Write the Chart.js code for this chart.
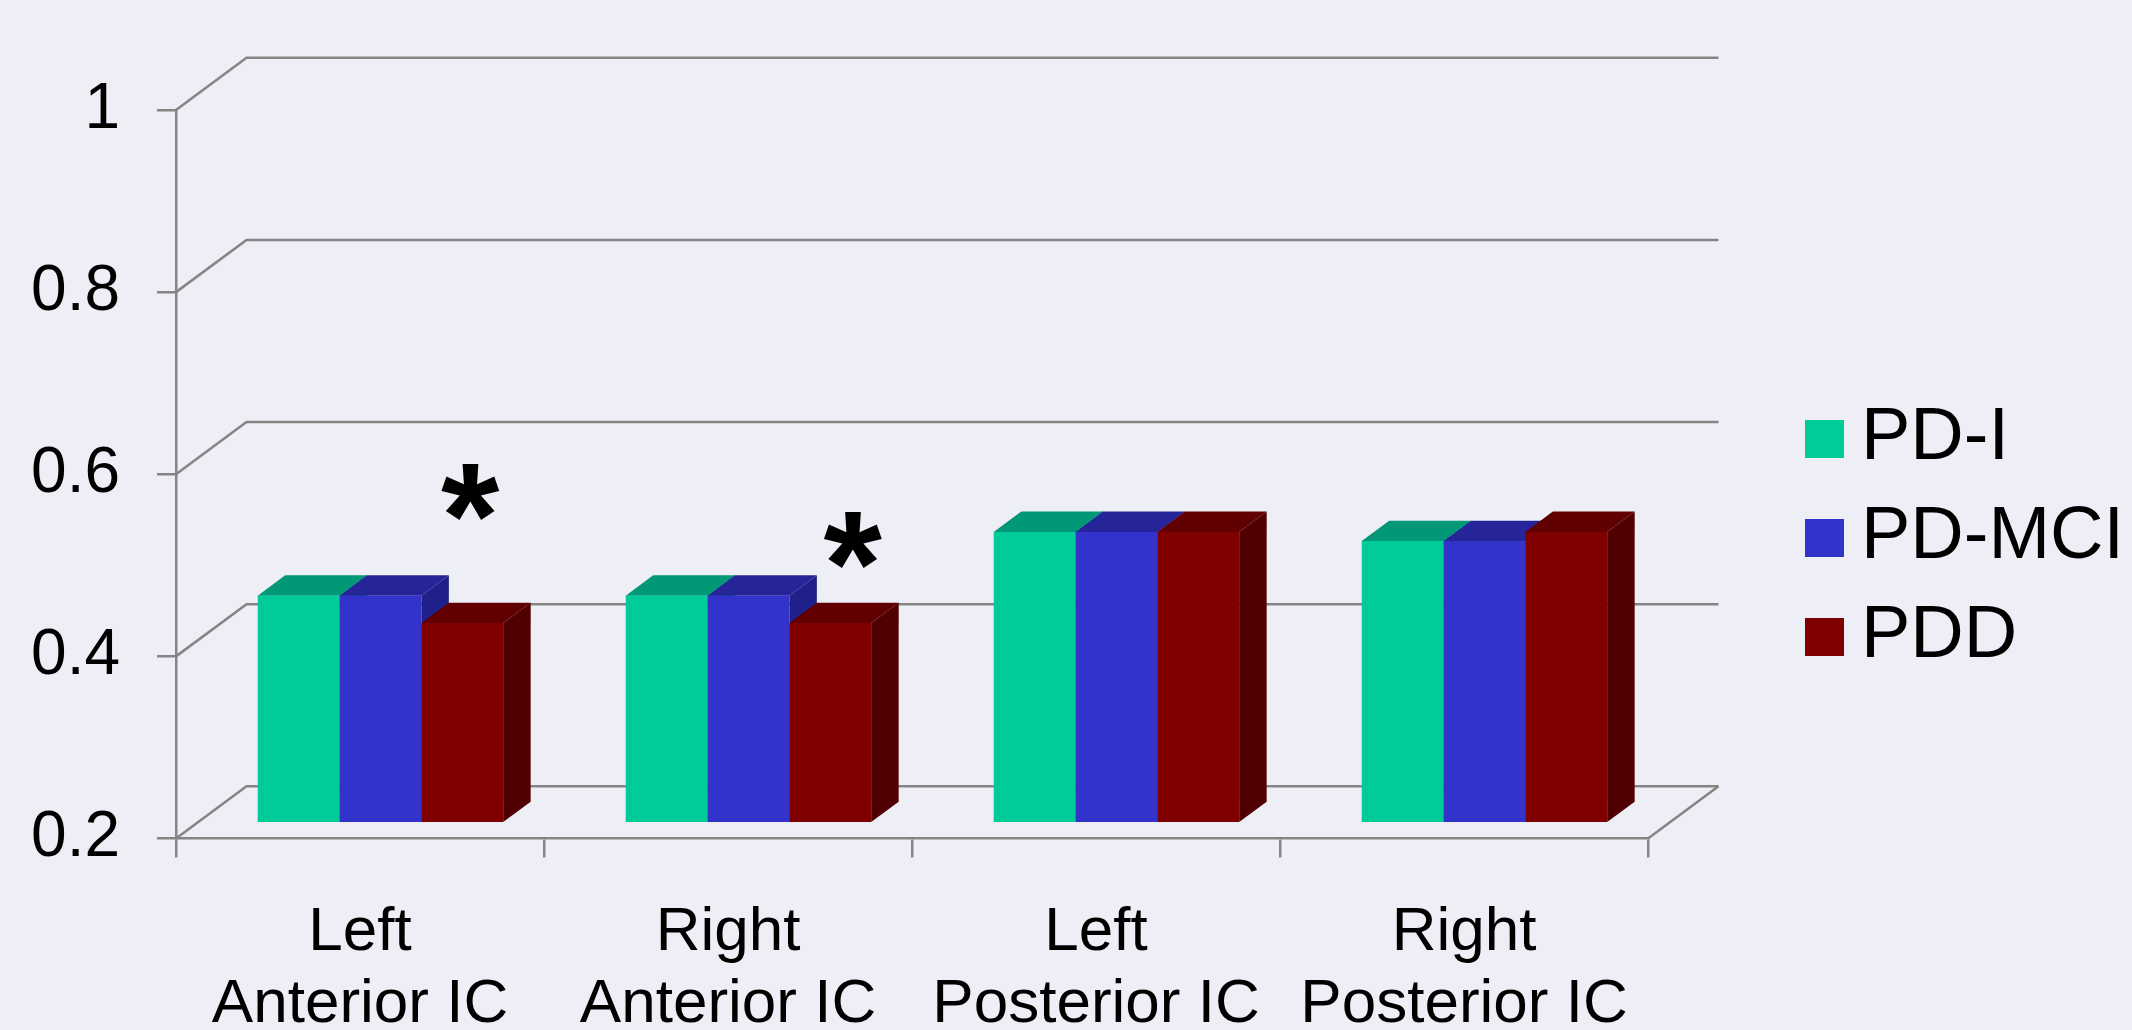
<!DOCTYPE html>
<html>
<head>
<meta charset="utf-8">
<title>Internal capsule by group</title>
<script src="https://cdn.jsdelivr.net/npm/chart.js@4.4.1/dist/chart.umd.min.js"></script>
<style>
  html, body { margin: 0; padding: 0; background: #EEEEF6; }
  canvas { display: block; }
</style>
</head>
<body>
<canvas id="chart" width="2132" height="1030"></canvas>
<script>
// ---- data ----
const categories = [
  ['Left', 'Anterior IC'],
  ['Right', 'Anterior IC'],
  ['Left', 'Posterior IC'],
  ['Right', 'Posterior IC']
];
const seriesNames = ['PD-I', 'PD-MCI', 'PDD'];
const pdI   = [0.45, 0.45, 0.52, 0.51];
const pdMCI = [0.45, 0.45, 0.52, 0.51];
const pdd   = [0.42, 0.42, 0.52, 0.52];
const yTicks = [0.2, 0.4, 0.6, 0.8, 1];
const yTickLabels = ['0.2', '0.4', '0.6', '0.8', '1'];
// significance stars: anchor on the category axis and on the value axis
const starCategory = [0.30, 1.34];
const starValue = [0.58, 0.527];

// ---- style ----
const FONT = "'Liberation Sans', Arial, Helvetica, sans-serif";
const BG = '#EEEEF6';
const GRID = '#858585';
const LINE_W = 2.5;
const FRONT = ['#00CC99', '#3333CC', '#800000'];
const TOP   = ['#009877', '#252599', '#600000'];
const SIDE  = ['#007A5E', '#20208A', '#500000'];
const DEPTH = { dx: 70.5, dy: -52.2 };   // full depth of the floor / back wall
const BAR_FRONT = 0.29;                  // bar front plane, fraction of depth
const BAR_DEPTH = 0.39;                  // bar thickness, fraction of depth
const LEGEND_X = 1785, LEGEND_Y = 402;   // first legend row origin
const STAR_SIZE = 150;

// legend swatch: square sitting at the right end of a wider transparent image
function swatch(color) {
  const c = document.createElement('canvas');
  c.width = 79; c.height = 38;
  const g = c.getContext('2d');
  g.fillStyle = color;
  g.fillRect(40, 0, 39, 38);
  return c;
}
const swatches = FRONT.map(swatch);

const scene3d = {
  id: 'scene3d',
  beforeDraw(chart) {
    const ctx = chart.ctx;
    ctx.save();
    ctx.fillStyle = BG;
    ctx.fillRect(0, 0, chart.width, chart.height);
    ctx.restore();
  },
  afterLayout(chart) {
    const lg = chart.legend;
    if (!lg) return;
    const pad = lg.options.labels.padding;
    lg.left = LEGEND_X - pad; lg.right = lg.left + lg.width;
    lg.top = LEGEND_Y - pad;  lg.bottom = lg.top + lg.height;
  },
  beforeDatasetsDraw(chart) {
    const { ctx, chartArea: a, scales: { y } } = chart;

    // back wall gridlines with their diagonals, and the floor's right edge
    ctx.save();
    ctx.strokeStyle = GRID;
    ctx.lineWidth = LINE_W;
    yTicks.forEach(v => {
      const py = y.getPixelForValue(v);
      ctx.beginPath();
      ctx.moveTo(a.left, py);
      ctx.lineTo(a.left + DEPTH.dx, py + DEPTH.dy);
      ctx.lineTo(a.right + DEPTH.dx, py + DEPTH.dy);
      ctx.stroke();
    });
    const pb = y.getPixelForValue(y.min);
    ctx.beginPath();
    ctx.moveTo(a.right, pb);
    ctx.lineTo(a.right + DEPTH.dx, pb + DEPTH.dy);
    ctx.stroke();
    ctx.restore();

    // bars: left to right inside each group, side + top faces then the front face
    const fx = DEPTH.dx * BAR_FRONT, fy = DEPTH.dy * BAR_FRONT;
    const bx = DEPTH.dx * BAR_DEPTH, by = DEPTH.dy * BAR_DEPTH;
    const metas = chart.data.datasets.map((_, i) => chart.getDatasetMeta(i));
    ctx.save();
    ctx.translate(fx, fy);
    for (let j = 0; j < chart.data.labels.length; j++) {
      metas.forEach((meta, i) => {
        const bar = meta.data[j];
        if (!bar) return;
        const { x, y: top, base, width } = bar.getProps(['x', 'y', 'base', 'width'], true);
        const l = x - width / 2, r = x + width / 2;
        ctx.fillStyle = SIDE[i];
        ctx.beginPath();
        ctx.moveTo(r, top); ctx.lineTo(r + bx, top + by);
        ctx.lineTo(r + bx, base + by); ctx.lineTo(r, base);
        ctx.closePath(); ctx.fill();
        ctx.fillStyle = TOP[i];
        ctx.beginPath();
        ctx.moveTo(l, top); ctx.lineTo(r, top);
        ctx.lineTo(r + bx, top + by); ctx.lineTo(l + bx, top + by);
        ctx.closePath(); ctx.fill();
        bar.draw(ctx, chart.chartArea);
      });
    }
    ctx.restore();
    return false;
  },
  afterDraw(chart) {
    const { ctx, scales: { x, y } } = chart;
    ctx.save();
    ctx.fillStyle = '#000';
    ctx.font = `bold ${STAR_SIZE}px ${FONT}`;
    ctx.textAlign = 'center';
    ctx.textBaseline = 'alphabetic';
    const m = ctx.measureText('*');
    starCategory.forEach((c, k) => {
      const cx = x.getPixelForValue(c);
      const cy = y.getPixelForValue(starValue[k]);
      const baseY = cy + (m.actualBoundingBoxAscent - m.actualBoundingBoxDescent) / 2;
      const shiftX = (m.actualBoundingBoxLeft - m.actualBoundingBoxRight) / 2;
      ctx.fillText('*', cx + shiftX, baseY);
    });
    ctx.restore();
  }
};

Chart.defaults.font.family = FONT;
Chart.defaults.color = '#000';

new Chart(document.getElementById('chart'), {
  type: 'bar',
  data: {
    labels: categories,
    datasets: [
      { label: seriesNames[0], data: pdI,   backgroundColor: FRONT[0] },
      { label: seriesNames[1], data: pdMCI, backgroundColor: FRONT[1] },
      { label: seriesNames[2], data: pdd,   backgroundColor: FRONT[2] }
    ]
  },
  options: {
    responsive: false,
    animation: false,
    events: [],
    layout: { padding: { top: 110, right: 484, bottom: 0, left: 0 } },
    datasets: {
      bar: { categoryPercentage: 0.667, barPercentage: 1, borderWidth: 0, base: yTicks[0] }
    },
    scales: {
      x: {
        afterFit: s => { s.height = 191.5; },
        ticks: {
          padding: 39, autoSkip: false, maxRotation: 0,
          font: { size: 62, lineHeight: 1.168 }, color: '#000'
        },
        grid: { offset: true, drawOnChartArea: false, drawTicks: true, tickLength: 19, color: GRID, lineWidth: LINE_W },
        border: { display: true, color: GRID, width: LINE_W }
      },
      y: {
        min: 0.2, max: 1,
        afterBuildTicks: s => { s.ticks = yTicks.map(v => ({ value: v })); },
        afterFit: s => { s.width = 176; },
        ticks: {
          padding: 37, font: { size: 64 }, color: '#000',
          callback: v => yTickLabels[yTicks.indexOf(v)]
        },
        grid: { drawOnChartArea: false, drawTicks: true, tickLength: 19, color: GRID, lineWidth: LINE_W },
        border: { display: true, color: GRID, width: LINE_W }
      }
    },
    plugins: {
      tooltip: { enabled: false },
      legend: {
        position: 'chartArea',
        align: 'start',
        labels: {
          usePointStyle: true,
          boxWidth: 39,
          padding: 25,
          font: { size: 74 },
          color: '#000',
          generateLabels: chart => chart.data.datasets.map((ds, i) => ({
            text: ds.label,
            pointStyle: swatches[i],
            fillStyle: FRONT[i],
            strokeStyle: 'rgba(0,0,0,0)',
            lineWidth: 0,
            hidden: false,
            datasetIndex: i
          }))
        }
      }
    }
  },
  plugins: [scene3d]
});
</script>
</body>
</html>
